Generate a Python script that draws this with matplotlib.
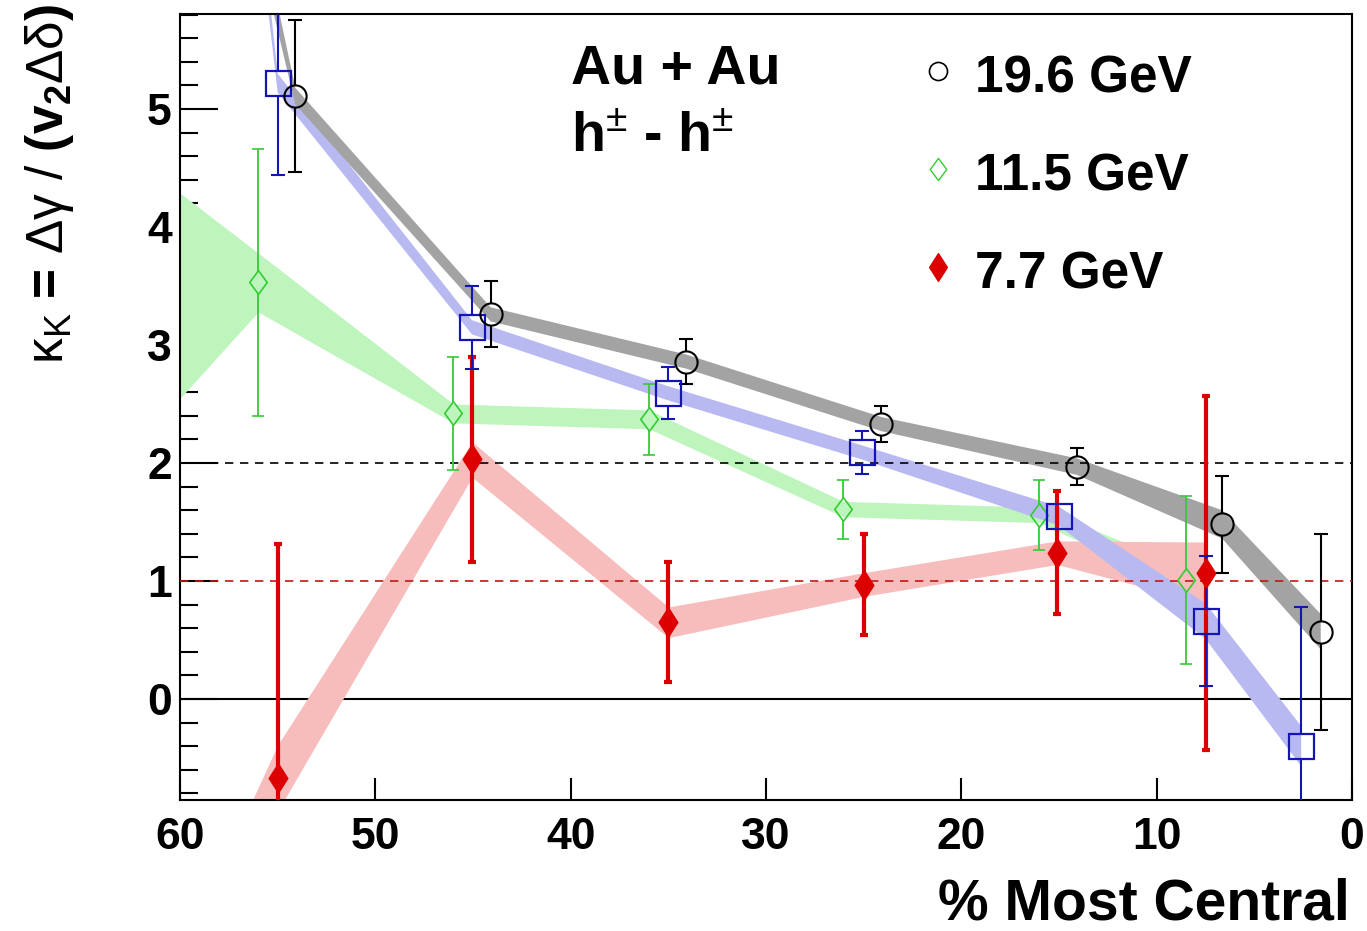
import numpy as np
import matplotlib
matplotlib.use("Agg")
import matplotlib.pyplot as plt
from matplotlib.path import Path

plt.rcParams['font.family'] = ['Liberation Sans', 'DejaVu Sans']
plt.rcParams['font.weight'] = 'bold'
plt.rcParams['mathtext.fontset'] = 'custom'
plt.rcParams['mathtext.rm'] = 'Liberation Sans:weight=normal'
plt.rcParams['mathtext.bf'] = 'Liberation Sans:weight=bold'
plt.rcParams['mathtext.it'] = 'Liberation Sans:italic:weight=normal'
plt.rcParams['mathtext.default'] = 'rm'

# centrality (%), kappa, statistical error, systematic half-width
cent_196 = np.array([64.1, 54.1, 44.1, 34.1, 24.1, 14.1, 6.65, 1.6])
kappa_196 = np.array([12.5, 5.11, 3.26, 2.86, 2.33, 1.97, 1.48, 0.57])
stat_196 = np.array([1.5, 0.64, 0.28, 0.19, 0.15, 0.16, 0.41, 0.83])
sys_196 = np.array([0.5, 0.07, 0.06, 0.06, 0.06, 0.07, 0.12, 0.15])

cent_sq = np.array([65.0, 55.0, 45.05, 35.0, 25.1, 15.0, 7.5, 2.6])
kappa_sq = np.array([20.0, 5.22, 3.15, 2.59, 2.09, 1.55, 0.66, -0.40])
stat_sq = np.array([2.0, 0.78, 0.35, 0.22, 0.18, 0.05, 0.55, 1.18])
sys_sq = np.array([0.6, 0.08, 0.06, 0.06, 0.06, 0.08, 0.15, 0.17])

cent_115 = np.array([66.0, 56.0, 46.0, 36.0, 26.05, 16.0, 8.5])
kappa_115 = np.array([3.25, 3.53, 2.42, 2.37, 1.61, 1.56, 1.01])
stat_115 = np.array([1.5, 1.13, 0.48, 0.30, 0.25, 0.30, 0.71])
sys_115 = np.array([1.8, 0.25, 0.08, 0.08, 0.065, 0.065, 0.10])

cent_77 = np.array([65.0, 55.0, 45.05, 35.0, 25.0, 15.1, 7.5])
kappa_77 = np.array([-4.5, -0.67, 2.03, 0.65, 0.97, 1.24, 1.07])
stat_77 = np.array([2.0, 1.98, 0.87, 0.51, 0.43, 0.52, 1.50])
sys_77 = np.array([0.5, 0.28, 0.15, 0.13, 0.10, 0.10, 0.26])

legend_labels = ['19.6 GeV', '11.5 GeV', '7.7 GeV']

xmin, xmax = 60, 0
ymin, ymax = -0.856, 5.805

# ROOT-like diamond shapes
open_diamond = Path([(0, 1), (0.74, 0), (0, -1), (-0.74, 0), (0, 1)],
                    [Path.MOVETO, Path.LINETO, Path.LINETO, Path.LINETO, Path.CLOSEPOLY])
full_diamond = Path([(0, 1), (0.64, 0), (0, -1), (-0.64, 0), (0, 1)],
                    [Path.MOVETO, Path.LINETO, Path.LINETO, Path.LINETO, Path.CLOSEPOLY])

fig = plt.figure(figsize=(13.67, 9.31), dpi=100)
ax = fig.add_axes([180 / 1367, 1 - 800 / 931, 1172 / 1367, 786 / 931])
ax.set_xlim(xmin, xmax)
ax.set_ylim(ymin, ymax)

ppu = ax.get_window_extent().height / (ymax - ymin)  # pixels per kappa unit


def draw_band(x, y, sys, color, z):
    ax.fill_between(x, y - sys, y + sys, color=color, lw=0, zorder=z)


def draw_points(x, y, err, color, marker, ms, mew, filled, lw, capw, capt, gap_px, z):
    gap = gap_px / ppu
    for xi, yi, ei in zip(x, y, err):
        if ei > gap:
            ax.plot([xi, xi], [yi + gap, yi + ei], color=color, lw=lw, zorder=z,
                    solid_capstyle='butt')
            ax.plot([xi, xi], [yi - gap, yi - ei], color=color, lw=lw, zorder=z,
                    solid_capstyle='butt')
            ax.plot([xi, xi], [yi + ei, yi - ei], ls='none', marker='_',
                    ms=capw, mew=capt, color=color, zorder=z)
    ax.plot(x, y, ls='none', marker=marker, ms=ms, mew=mew, mec=color,
            mfc=color if filled else 'none', zorder=z + 1)


# zero line sits underneath the systematic bands
ax.axhline(0, color='black', lw=1.5, zorder=1)

draw_band(cent_115, kappa_115, sys_115, '#bdf5bd', 2)
draw_band(cent_77, kappa_77, sys_77, '#f7bcbc', 2.1)
draw_band(cent_sq, kappa_sq, sys_sq, '#b9b9f2', 2.2)
draw_band(cent_196, kappa_196, sys_196, '#a3a3a3', 2.3)

ax.axhline(2, color='black', lw=1.2, ls=(0, (5, 4)), zorder=3)
ax.axhline(1, color='#c81414', lw=1.2, ls=(0, (5, 4)), zorder=3)

draw_points(cent_115, kappa_115, stat_115, '#33cc33', open_diamond, 17, 1.2, False,
            1.3, 9, 1.2, 11, 4)
draw_points(cent_77, kappa_77, stat_77, '#dd0000', full_diamond, 21, 1.0, True,
            3.0, 6, 3.0, 0, 4.2)
draw_points(cent_sq, kappa_sq, stat_sq, '#1515b4', 's', 18, 1.6, False,
            1.5, 10, 1.5, 12.5, 4.4)
draw_points(cent_196, kappa_196, stat_196, 'black', 'o', 16, 1.5, False,
            1.5, 10, 1.5, 11, 4.6)

# axes styling
for sp in ax.spines.values():
    sp.set_linewidth(1.5)
ax.set_xticks([60, 50, 40, 30, 20, 10, 0])
ax.set_yticks([0, 1, 2, 3, 4, 5])
ax.set_yticks(np.arange(-0.8, 5.81, 0.2), minor=True)
ax.tick_params(axis='y', which='major', direction='in', length=27, width=1.5,
               labelsize=32, pad=6)
ax.tick_params(axis='y', which='minor', direction='in', length=13, width=1.5)
ax.tick_params(axis='x', which='major', direction='in', length=16, width=1.5,
               labelsize=32, pad=12)
ax.tick_params(axis='x', which='minor', bottom=False)
for lab in ax.get_xticklabels() + ax.get_yticklabels():
    lab.set_fontweight('bold')

fig.text(1350 / 1367, 1 - 905 / 931, '% Most Central', ha='right', va='center',
         fontsize=41, fontweight='bold')
fig.text(50 / 1367, 1 - 4 / 931,
         r'$\kappa_{K}$ = $\Delta\gamma$ $/$ ($\mathbf{v}_{\mathbf{2}}\Delta\delta$)',
         rotation=90, ha='center', va='top', fontsize=37, fontweight='bold')

ax.text(0.334, 0.911, 'Au + Au', transform=ax.transAxes, ha='left',
        va='baseline', fontsize=40, fontweight='bold')
ax.text(0.334, 0.824, r'h$^{\pm}$ - h$^{\pm}$', transform=ax.transAxes,
        ha='left', va='baseline', fontsize=40, fontweight='bold')

# legend entries
leg_y = [0.900, 0.776, 0.651]
leg_style = [('black', 'o', 13, False, 1.2),
             ('#33cc33', open_diamond, 16, False, 1.0),
             ('#dd0000', full_diamond, 20, True, 1.0)]
for yy, lab, (c, m, s, f, w) in zip(leg_y, legend_labels, leg_style):
    ax.plot([0.647], [yy + 0.027], transform=ax.transAxes, ls='none', marker=m,
            ms=s, mew=w, mec=c, mfc=c if f else 'none', clip_on=False, zorder=6)
    ax.text(0.678, yy, lab, transform=ax.transAxes, ha='left', va='baseline',
            fontsize=37, fontweight='bold')

fig.savefig('out.png', dpi=100)
